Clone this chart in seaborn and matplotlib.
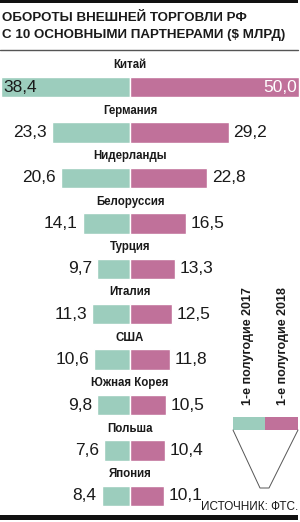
import matplotlib
matplotlib.use("Agg")
import matplotlib.pyplot as plt
import seaborn as sns
import pandas as pd

countries = ["Китай", "Германия", "Нидерланды", "Белоруссия", "Турция",
             "Италия", "США", "Южная Корея", "Польша", "Япония"]
h1_2017 = [38.4, 23.3, 20.6, 14.1, 9.7, 11.3, 10.6, 9.8, 7.6, 8.4]
h1_2018 = [50.0, 29.2, 22.8, 16.5, 13.3, 12.5, 11.8, 10.5, 10.4, 10.1]
labels_2017 = ["38,4", "23,3", "20,6", "14,1", "9,7", "11,3", "10,6", "9,8", "7,6", "8,4"]
labels_2018 = ["50,0", "29,2", "22,8", "16,5", "13,3", "12,5", "11,8", "10,5", "10,4", "10,1"]
title_lines = ["ОБОРОТЫ ВНЕШНЕЙ ТОРГОВЛИ РФ", "С 10 ОСНОВНЫМИ ПАРТНЕРАМИ ($ МЛРД)"]
legend_labels = ["1-е полугодие 2017", "1-е полугодие 2018"]
source = "ИСТОЧНИК: ФТС."

GREEN = "#9ccdbd"
PINK = "#c0719a"
REG = ["Liberation Sans", "DejaVu Sans"]

sns.set_theme(style="white")
plt.rcParams["font.family"] = REG

W, H = 300, 522
fig = plt.figure(figsize=(W / 100, H / 100), dpi=100)

df = pd.DataFrame({"country": countries,
                   "left": [-v for v in h1_2017],
                   "right": h1_2018})

ax = fig.add_axes([0, 0, 1, 1])
sns.barplot(data=df, y="country", x="left", color=GREEN, width=0.45,
            saturation=1, ax=ax, orient="h")
sns.barplot(data=df, y="country", x="right", color=PINK, width=0.45,
            saturation=1, ax=ax, orient="h")
ax.set_xlim(-38.6, 50.4)
ax.set_ylim(9.573, -1.915)
ax.axis("off")

for i, (c, a, b, la, lb) in enumerate(zip(countries, h1_2017, h1_2018, labels_2017, labels_2018)):
    ax.text(0, i - 0.48, c, ha="center", va="center", fontsize=8.3,
            fontweight="bold", color="#1a1a1a")
    if i == 0:
        ax.text(-38.6 + 0.9, i, la, ha="left", va="center", fontsize=12.5,
                color="#1a1a1a")
        ax.text(50.4 - 1.0, i, lb, ha="right", va="center", fontsize=12.5,
                color="white")
    else:
        ax.text(-a - 1.5, i, la, ha="right", va="center", fontsize=12.5,
                color="#1a1a1a")
        ax.text(b + 1.4, i, lb, ha="left", va="center", fontsize=12.5,
                color="#1a1a1a")

# overlay in pixel coordinates for decorations
ov = fig.add_axes([0, 0, 1, 1], facecolor="none")
ov.set_xlim(0, W)
ov.set_ylim(H, 0)
ov.axis("off")

ov.add_patch(plt.Rectangle((0, 0), 298, 3.3, color="#111111", lw=0))
ov.add_patch(plt.Rectangle((0, 515), 298, 4.5, color="#111111", lw=0))
ov.plot([0, 298], [50, 50], color="#555555", lw=1.0)

ov.text(2, 17.8, title_lines[0], ha="left", va="center", fontsize=9.6,
        fontweight="bold", color="#1a1a1a")
ov.text(2, 35, title_lines[1], ha="left", va="center", fontsize=9.6,
        fontweight="bold", color="#1a1a1a")

# legend
ov.add_patch(plt.Rectangle((233, 417), 32, 13, color=GREEN, lw=0))
ov.add_patch(plt.Rectangle((265, 417), 33, 13, color=PINK, lw=0))
ov.plot([233, 260, 269, 298], [430, 488, 488, 430], color="#555555", lw=0.7)
ov.text(248, 405, legend_labels[0], rotation=90, ha="center", va="bottom",
        fontsize=9, fontweight="bold", color="#1a1a1a")
ov.text(283, 405, legend_labels[1], rotation=90, ha="center", va="bottom",
        fontsize=9, fontweight="bold", color="#1a1a1a")
ov.text(298, 507, source, ha="right", va="center", fontsize=8.5,
        color="#1a1a1a")

fig.savefig("out.png", dpi=100)
